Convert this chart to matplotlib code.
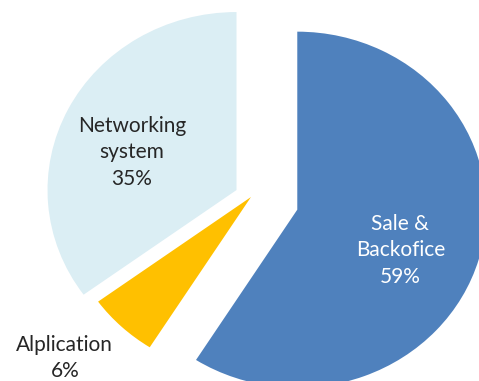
import matplotlib.pyplot as plt

# slice data
names = ['Sale &\nBackofice', 'Alplication', 'Networking\nsystem']
shares = [59, 6, 35]
colors = ['#4F81BD', '#FFC000', '#DBEEF4']
explode = [0.255, 0.0, 0.086]

# where each label sits (data units, pie centre at 0,0) and its colour
label_xy = [(0.79, -0.30), (-0.985, -0.905), (-0.63, 0.25)]
label_color = ['white', '#262626', '#262626']

fig = plt.figure(figsize=(4.79, 3.81), dpi=100)
ax = fig.add_axes([0, 0, 1, 1])

ax.pie(shares, colors=colors, explode=explode, startangle=90,
       counterclock=False, wedgeprops=dict(linewidth=0))

for name, v, (x, y), c in zip(names, shares, label_xy, label_color):
    ax.text(x, y, '%s\n%d%%' % (name, v), ha='center', va='center',
            color=c, fontsize=15, family='Lato', linespacing=1.42)

# the chart image is a little wider than tall
ax.set_aspect('auto')
ax.set_xlim(-251 / 189, 228 / 189)
ax.set_ylim(-184 / 178, 197 / 178)
ax.axis('off')

plt.savefig('out.png', dpi=100)
